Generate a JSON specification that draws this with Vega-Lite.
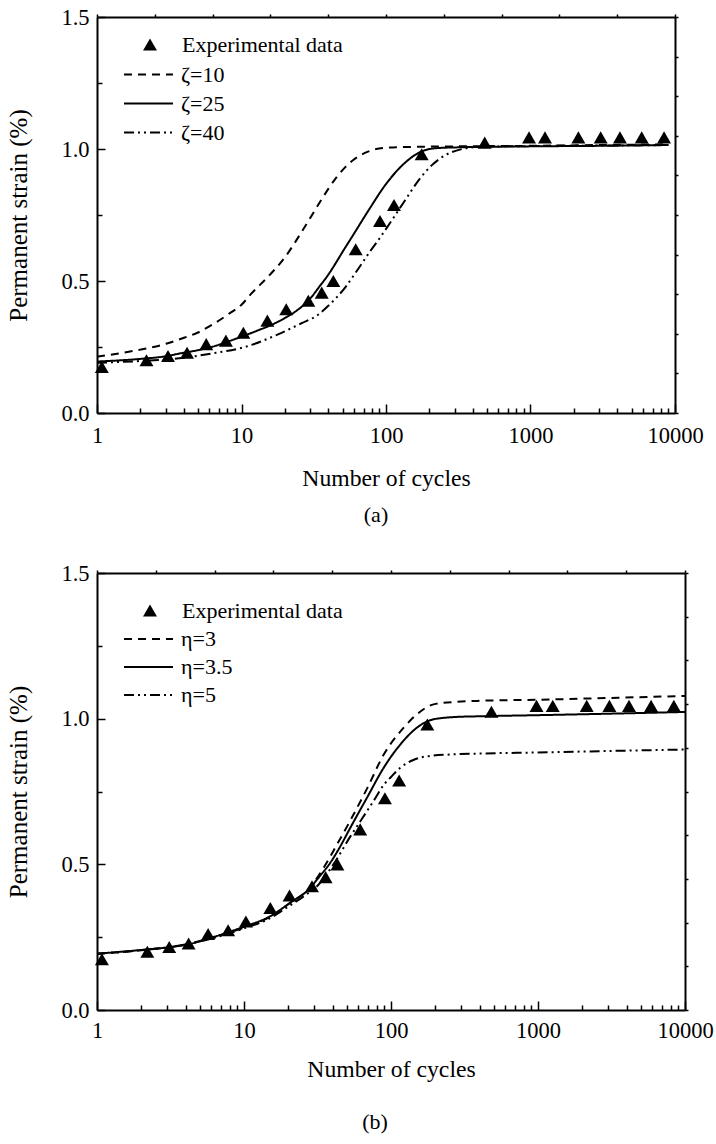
{
  "$schema": "https://vega.github.io/schema/vega-lite/v6.json",
  "padding": {"top": 6, "left": 6, "right": 10, "bottom": 5},
  "background": "white",
  "config": {
    "view": {"stroke": null},
    "font": "Liberation Serif",
    "axis": {
      "labelFont": "Liberation Serif", "labelFontSize": 22.5, "labelColor": "black",
      "titleFont": "Liberation Serif", "titleFontSize": 23.7, "titleFontWeight": "normal", "titleColor": "black",
      "domainColor": "black", "domainWidth": 2, "tickColor": "black", "tickWidth": 1.5, "grid": false,
      "labelFlush": false, "labelOverlap": false
    },
    "axisLeft": {"titleFontSize": 25},
    "legend": {"labelFont": "Liberation Serif", "labelFontSize": 22, "labelColor": "black", "labelLimit": 400}
  },
  "datasets": {
    "exp": [
      {"N": 1.08, "strain": 0.174}, {"N": 2.2, "strain": 0.2}, {"N": 3.1, "strain": 0.216}, {"N": 4.2, "strain": 0.228},
      {"N": 5.7, "strain": 0.261}, {"N": 7.8, "strain": 0.274}, {"N": 10.3, "strain": 0.304}, {"N": 15.1, "strain": 0.35},
      {"N": 20.4, "strain": 0.393}, {"N": 29, "strain": 0.425}, {"N": 35.9, "strain": 0.456}, {"N": 43.2, "strain": 0.5},
      {"N": 61.7, "strain": 0.62}, {"N": 90.9, "strain": 0.727}, {"N": 113.6, "strain": 0.788}, {"N": 176.6, "strain": 0.98},
      {"N": 482, "strain": 1.024}, {"N": 977, "strain": 1.044}, {"N": 1260, "strain": 1.044}, {"N": 2145, "strain": 1.044},
      {"N": 3060, "strain": 1.044}, {"N": 4160, "strain": 1.044}, {"N": 5880, "strain": 1.044}, {"N": 8400, "strain": 1.044}
    ],
    "curvesA": [
      {"series": "ζ=10", "N": 1, "strain": 0.213}, {"series": "ζ=10", "N": 1.5, "strain": 0.228}, {"series": "ζ=10", "N": 2, "strain": 0.24},
      {"series": "ζ=10", "N": 3, "strain": 0.262}, {"series": "ζ=10", "N": 4, "strain": 0.285}, {"series": "ζ=10", "N": 5, "strain": 0.305},
      {"series": "ζ=10", "N": 6.3, "strain": 0.335}, {"series": "ζ=10", "N": 8.4, "strain": 0.38}, {"series": "ζ=10", "N": 10, "strain": 0.41},
      {"series": "ζ=10", "N": 11.6, "strain": 0.45}, {"series": "ζ=10", "N": 15.5, "strain": 0.52}, {"series": "ζ=10", "N": 20, "strain": 0.59},
      {"series": "ζ=10", "N": 25, "strain": 0.67}, {"series": "ζ=10", "N": 30, "strain": 0.74}, {"series": "ζ=10", "N": 35, "strain": 0.8},
      {"series": "ζ=10", "N": 40, "strain": 0.85}, {"series": "ζ=10", "N": 45, "strain": 0.89}, {"series": "ζ=10", "N": 50, "strain": 0.92},
      {"series": "ζ=10", "N": 60, "strain": 0.96}, {"series": "ζ=10", "N": 75, "strain": 0.99}, {"series": "ζ=10", "N": 100, "strain": 1.005},
      {"series": "ζ=10", "N": 150, "strain": 1.008}, {"series": "ζ=10", "N": 300, "strain": 1.01}, {"series": "ζ=10", "N": 1000, "strain": 1.012},
      {"series": "ζ=10", "N": 3000, "strain": 1.015}, {"series": "ζ=10", "N": 9000, "strain": 1.018},
      {"series": "ζ=25", "N": 1, "strain": 0.195}, {"series": "ζ=25", "N": 2, "strain": 0.205}, {"series": "ζ=25", "N": 3, "strain": 0.215},
      {"series": "ζ=25", "N": 3.7, "strain": 0.225}, {"series": "ζ=25", "N": 5, "strain": 0.238}, {"series": "ζ=25", "N": 6.3, "strain": 0.251},
      {"series": "ζ=25", "N": 8, "strain": 0.27}, {"series": "ζ=25", "N": 10.7, "strain": 0.295}, {"series": "ζ=25", "N": 13, "strain": 0.313},
      {"series": "ζ=25", "N": 16.3, "strain": 0.335}, {"series": "ζ=25", "N": 20, "strain": 0.36}, {"series": "ζ=25", "N": 23.7, "strain": 0.385},
      {"series": "ζ=25", "N": 27, "strain": 0.41}, {"series": "ζ=25", "N": 30.9, "strain": 0.443}, {"series": "ζ=25", "N": 34.3, "strain": 0.476},
      {"series": "ζ=25", "N": 40, "strain": 0.525}, {"series": "ζ=25", "N": 44.8, "strain": 0.567}, {"series": "ζ=25", "N": 50, "strain": 0.61},
      {"series": "ζ=25", "N": 58.3, "strain": 0.668}, {"series": "ζ=25", "N": 76, "strain": 0.769}, {"series": "ζ=25", "N": 99, "strain": 0.864},
      {"series": "ζ=25", "N": 130, "strain": 0.939}, {"series": "ζ=25", "N": 169, "strain": 0.986}, {"series": "ζ=25", "N": 220, "strain": 1.003},
      {"series": "ζ=25", "N": 300, "strain": 1.006}, {"series": "ζ=25", "N": 1000, "strain": 1.01}, {"series": "ζ=25", "N": 3000, "strain": 1.012},
      {"series": "ζ=25", "N": 9000, "strain": 1.015},
      {"series": "ζ=40", "N": 1, "strain": 0.19}, {"series": "ζ=40", "N": 2, "strain": 0.197}, {"series": "ζ=40", "N": 3.7, "strain": 0.207},
      {"series": "ζ=40", "N": 6.3, "strain": 0.226}, {"series": "ζ=40", "N": 10.7, "strain": 0.251}, {"series": "ζ=40", "N": 17.4, "strain": 0.295},
      {"series": "ζ=40", "N": 26, "strain": 0.34}, {"series": "ζ=40", "N": 34.3, "strain": 0.374}, {"series": "ζ=40", "N": 39.7, "strain": 0.405},
      {"series": "ζ=40", "N": 52.6, "strain": 0.478}, {"series": "ζ=40", "N": 61.9, "strain": 0.533}, {"series": "ζ=40", "N": 76, "strain": 0.605},
      {"series": "ζ=40", "N": 92, "strain": 0.668}, {"series": "ζ=40", "N": 110, "strain": 0.731}, {"series": "ζ=40", "N": 136, "strain": 0.807},
      {"series": "ζ=40", "N": 169, "strain": 0.883}, {"series": "ζ=40", "N": 208, "strain": 0.939}, {"series": "ζ=40", "N": 258, "strain": 0.977},
      {"series": "ζ=40", "N": 337, "strain": 1.0}, {"series": "ζ=40", "N": 440, "strain": 1.008}, {"series": "ζ=40", "N": 1000, "strain": 1.011},
      {"series": "ζ=40", "N": 3000, "strain": 1.013}, {"series": "ζ=40", "N": 9000, "strain": 1.015}
    ],
    "curvesB": [
      {"series": "η=3", "N": 1, "strain": 0.193}, {"series": "η=3", "N": 2, "strain": 0.205}, {"series": "η=3", "N": 4, "strain": 0.225},
      {"series": "η=3", "N": 6, "strain": 0.247}, {"series": "η=3", "N": 10, "strain": 0.283}, {"series": "η=3", "N": 15, "strain": 0.32},
      {"series": "η=3", "N": 20, "strain": 0.363}, {"series": "η=3", "N": 28, "strain": 0.42}, {"series": "η=3", "N": 35, "strain": 0.49},
      {"series": "η=3", "N": 42.9, "strain": 0.568}, {"series": "η=3", "N": 52.8, "strain": 0.65}, {"series": "η=3", "N": 68.7, "strain": 0.76},
      {"series": "η=3", "N": 89.3, "strain": 0.877}, {"series": "η=3", "N": 122, "strain": 0.969}, {"series": "η=3", "N": 150, "strain": 1.015},
      {"series": "η=3", "N": 195, "strain": 1.049}, {"series": "η=3", "N": 280, "strain": 1.058}, {"series": "η=3", "N": 385, "strain": 1.061},
      {"series": "η=3", "N": 1000, "strain": 1.065}, {"series": "η=3", "N": 3000, "strain": 1.071}, {"series": "η=3", "N": 10000, "strain": 1.078},
      {"series": "η=3.5", "N": 1, "strain": 0.193}, {"series": "η=3.5", "N": 2.08, "strain": 0.207}, {"series": "η=3.5", "N": 3.5, "strain": 0.219},
      {"series": "η=3.5", "N": 4.3, "strain": 0.227}, {"series": "η=3.5", "N": 5.9, "strain": 0.247}, {"series": "η=3.5", "N": 9.9, "strain": 0.285},
      {"series": "η=3.5", "N": 15.1, "strain": 0.322}, {"series": "η=3.5", "N": 20.6, "strain": 0.368}, {"series": "η=3.5", "N": 28.2, "strain": 0.419},
      {"series": "η=3.5", "N": 31.4, "strain": 0.448}, {"series": "η=3.5", "N": 38.6, "strain": 0.505}, {"series": "η=3.5", "N": 45, "strain": 0.56},
      {"series": "η=3.5", "N": 52.8, "strain": 0.625}, {"series": "η=3.5", "N": 68.7, "strain": 0.729}, {"series": "η=3.5", "N": 89.3, "strain": 0.832},
      {"series": "η=3.5", "N": 116, "strain": 0.912}, {"series": "η=3.5", "N": 150, "strain": 0.969}, {"series": "η=3.5", "N": 195, "strain": 0.998},
      {"series": "η=3.5", "N": 280, "strain": 1.006}, {"series": "η=3.5", "N": 385, "strain": 1.008}, {"series": "η=3.5", "N": 1000, "strain": 1.012},
      {"series": "η=3.5", "N": 3000, "strain": 1.017}, {"series": "η=3.5", "N": 10000, "strain": 1.023},
      {"series": "η=5", "N": 1, "strain": 0.193}, {"series": "η=5", "N": 2, "strain": 0.205}, {"series": "η=5", "N": 4, "strain": 0.225},
      {"series": "η=5", "N": 6, "strain": 0.245}, {"series": "η=5", "N": 10, "strain": 0.28}, {"series": "η=5", "N": 15, "strain": 0.315},
      {"series": "η=5", "N": 20, "strain": 0.355}, {"series": "η=5", "N": 28, "strain": 0.405}, {"series": "η=5", "N": 31.4, "strain": 0.425},
      {"series": "η=5", "N": 40.6, "strain": 0.5}, {"series": "η=5", "N": 52.8, "strain": 0.595}, {"series": "η=5", "N": 61.9, "strain": 0.648},
      {"series": "η=5", "N": 76, "strain": 0.717}, {"series": "η=5", "N": 90, "strain": 0.775}, {"series": "η=5", "N": 100, "strain": 0.8},
      {"series": "η=5", "N": 116, "strain": 0.832}, {"series": "η=5", "N": 142, "strain": 0.858}, {"series": "η=5", "N": 176, "strain": 0.871},
      {"series": "η=5", "N": 253, "strain": 0.877}, {"series": "η=5", "N": 385, "strain": 0.88}, {"series": "η=5", "N": 1000, "strain": 0.884},
      {"series": "η=5", "N": 3000, "strain": 0.889}, {"series": "η=5", "N": 10000, "strain": 0.894}
    ]
  },
  "resolve": {"scale": {"shape": "independent", "strokeDash": "independent"}},
  "spacing": 35,
  "vconcat": [
    {
      "width": 578, "height": 396,
      "title": {"text": "(a)", "orient": "bottom", "anchor": "middle", "frame": "group", "font": "Liberation Serif", "fontSize": 22, "fontWeight": "normal", "color": "black", "offset": 15, "dx": -10},
      "resolve": {"axis": {"x": "independent", "y": "independent"}},
      "layer": [
        {
          "data": {"name": "curvesA"},
          "mark": {"type": "line", "color": "black", "strokeWidth": 2, "interpolate": "monotone"},
          "encoding": {
            "x": {"field": "N", "type": "quantitative", "scale": {"type": "log", "domain": [1, 10000], "nice": false},
              "axis": {"orient": "top", "title": null, "labels": false, "tickSize": 3, "values": [1, 2.5119, 6.3096, 15.849, 39.811, 100, 251.19, 630.96, 1584.9, 3981.1, 10000]}},
            "y": {"field": "strain", "type": "quantitative", "scale": {"domain": [0, 1.5], "nice": false, "zero": false},
              "axis": {"orient": "right", "title": null, "labels": false, "tickSize": 3, "values": [0, 0.15, 0.3, 0.45, 0.6, 0.75, 0.9, 1.05, 1.2, 1.35, 1.5]}},
            "strokeDash": {"field": "series", "type": "nominal",
              "scale": {"domain": ["ζ=10", "ζ=25", "ζ=40"], "range": [[8, 6], [1, 0], [10, 4, 2, 4, 2, 4]]},
              "legend": {"orient": "none", "legendX": 26, "legendY": 44, "title": null, "symbolType": "stroke", "symbolSize": 2400, "symbolStrokeWidth": 2, "symbolStrokeColor": "black", "labelOffset": 7, "clipHeight": 27, "rowPadding": 2}}
          }
        },
        {
          "data": {"name": "exp"},
          "mark": {"type": "point", "filled": true, "color": "black", "opacity": 1, "size": 195},
          "encoding": {
            "x": {"field": "N", "type": "quantitative", "scale": {"type": "log", "domain": [1, 10000], "nice": false},
              "axis": {"orient": "bottom", "title": "Number of cycles", "titlePadding": 16, "labelPadding": 20,
                "values": [1, 2, 3, 4, 5, 6, 7, 8, 9, 10, 20, 30, 40, 50, 60, 70, 80, 90, 100, 200, 300, 400, 500, 600, 700, 800, 900, 1000, 2000, 3000, 4000, 5000, 6000, 7000, 8000, 9000, 10000],
                "labelExpr": "indexof([1,10,100,1000,10000], datum.value) >= 0 ? format(datum.value, 'd') : ''",
                "tickSize": {"condition": {"test": "indexof([1,10,100,1000,10000], datum.value) >= 0", "value": -9}, "value": -5}}},
            "y": {"field": "strain", "type": "quantitative", "scale": {"domain": [0, 1.5], "nice": false, "zero": false},
              "axis": {"orient": "left", "title": "Permanent strain (%)", "titlePadding": 29, "labelPadding": 16,
                "values": [0, 0.25, 0.5, 0.75, 1, 1.25, 1.5],
                "labelExpr": "indexof([0,0.5,1,1.5], datum.value) >= 0 ? format(datum.value, '.1f') : ''",
                "tickSize": {"condition": {"test": "indexof([0,0.5,1,1.5], datum.value) >= 0", "value": -8}, "value": -5}}},
            "shape": {"datum": "Experimental data", "type": "nominal", "scale": {"range": ["triangle-up"]},
              "legend": {"orient": "none", "legendX": 42, "legendY": 14, "title": null, "symbolSize": 195, "symbolFillColor": "black", "symbolStrokeColor": "black", "symbolType": "triangle-up", "labelOffset": 21, "clipHeight": 27}}
          }
        }
      ]
    },
    {
      "width": 588, "height": 437,
      "title": {"text": "(b)", "orient": "bottom", "anchor": "middle", "frame": "group", "font": "Liberation Serif", "fontSize": 22, "fontWeight": "normal", "color": "black", "offset": 31, "dx": -16},
      "resolve": {"axis": {"x": "independent", "y": "independent"}},
      "layer": [
        {
          "data": {"name": "curvesB"},
          "mark": {"type": "line", "color": "black", "strokeWidth": 2, "interpolate": "monotone"},
          "encoding": {
            "x": {"field": "N", "type": "quantitative", "scale": {"type": "log", "domain": [1, 10000], "nice": false},
              "axis": {"orient": "top", "title": null, "labels": false, "tickSize": 3, "values": [1, 2.5119, 6.3096, 15.849, 39.811, 100, 251.19, 630.96, 1584.9, 3981.1, 10000]}},
            "y": {"field": "strain", "type": "quantitative", "scale": {"domain": [0, 1.5], "nice": false, "zero": false},
              "axis": {"orient": "right", "title": null, "labels": false, "tickSize": 3, "values": [0, 0.15, 0.3, 0.45, 0.6, 0.75, 0.9, 1.05, 1.2, 1.35, 1.5]}},
            "strokeDash": {"field": "series", "type": "nominal",
              "scale": {"domain": ["η=3", "η=3.5", "η=5"], "range": [[8, 6], [1, 0], [10, 4, 2, 4, 2, 4]]},
              "legend": {"orient": "none", "legendX": 26, "legendY": 53, "title": null, "symbolType": "stroke", "symbolSize": 2400, "symbolStrokeWidth": 2, "symbolStrokeColor": "black", "labelOffset": 7, "clipHeight": 26, "rowPadding": 2}}
          }
        },
        {
          "data": {"name": "exp"},
          "mark": {"type": "point", "filled": true, "color": "black", "opacity": 1, "size": 195},
          "encoding": {
            "x": {"field": "N", "type": "quantitative", "scale": {"type": "log", "domain": [1, 10000], "nice": false},
              "axis": {"orient": "bottom", "title": "Number of cycles", "titlePadding": 12, "labelPadding": 18,
                "values": [1, 2, 3, 4, 5, 6, 7, 8, 9, 10, 20, 30, 40, 50, 60, 70, 80, 90, 100, 200, 300, 400, 500, 600, 700, 800, 900, 1000, 2000, 3000, 4000, 5000, 6000, 7000, 8000, 9000, 10000],
                "labelExpr": "indexof([1,10,100,1000,10000], datum.value) >= 0 ? format(datum.value, 'd') : ''",
                "tickSize": {"condition": {"test": "indexof([1,10,100,1000,10000], datum.value) >= 0", "value": -9}, "value": -5}}},
            "y": {"field": "strain", "type": "quantitative", "scale": {"domain": [0, 1.5], "nice": false, "zero": false},
              "axis": {"orient": "left", "title": "Permanent strain (%)", "titlePadding": 29, "labelPadding": 16,
                "values": [0, 0.25, 0.5, 0.75, 1, 1.25, 1.5],
                "labelExpr": "indexof([0,0.5,1,1.5], datum.value) >= 0 ? format(datum.value, '.1f') : ''",
                "tickSize": {"condition": {"test": "indexof([0,0.5,1,1.5], datum.value) >= 0", "value": -8}, "value": -5}}},
            "shape": {"datum": "Experimental data", "type": "nominal", "scale": {"range": ["triangle-up"]},
              "legend": {"orient": "none", "legendX": 42, "legendY": 24, "title": null, "symbolSize": 195, "symbolFillColor": "black", "symbolStrokeColor": "black", "symbolType": "triangle-up", "labelOffset": 21, "clipHeight": 27}}
          }
        }
      ]
    }
  ]
}
